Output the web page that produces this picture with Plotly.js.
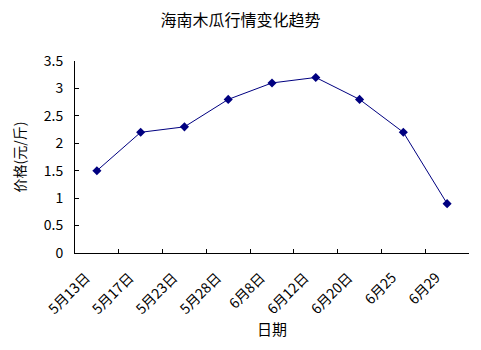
<!DOCTYPE html>
<html><head><meta charset="utf-8">
<script src="https://cdn.plot.ly/plotly-3.0.1.min.js"></script>
<style>body{margin:0;background:#fff}#c{width:481px;height:350px}</style>
</head><body><div id="c"></div>
<script>
const dates = ["5月13日","5月17日","5月23日","5月28日","6月8日","6月12日","6月20日","6月25","6月29"];
const prices = [1.5, 2.2, 2.3, 2.8, 3.1, 3.2, 2.8, 2.2, 0.9];
const yTicks = [0, 0.5, 1, 1.5, 2, 2.5, 3, 3.5];
const yTickText = ["0","0.5","1","1.5","2","2.5","3","3.5"];
const font = "'Noto Sans CJK SC', 'DejaVu Sans', sans-serif";
Plotly.newPlot('c', [{
  x: dates, y: prices, type: 'scatter', mode: 'lines+markers',
  line: {color: '#000080', width: 1},
  marker: {symbol: 'diamond', size: 7, color: '#000080'}
}], {
  width: 481, height: 350,
  margin: {l: 75, r: 12, t: 61, b: 97},
  paper_bgcolor: '#fff', plot_bgcolor: '#fff',
  showlegend: false,
  font: {family: font, color: '#000', size: 12},
  title: {text: '海南木瓜行情变化趋势', x: 0.5, xanchor: 'center', y: 0.943, yanchor: 'middle', font: {size: 16, family: font}},
  xaxis: {
    type: 'category', tickson: 'boundaries', ticks: 'inside', ticklen: 4, tickcolor: '#000',
    showline: true, linecolor: '#000', linewidth: 1, showgrid: false, zeroline: false,
    tickangle: -45, tickfont: {size: 14, family: font}, ticklabelstandoff: 10, ticklabelshift: -11,
    title: {text: '日期', font: {size: 15, family: font}, standoff: 6},
    range: [-0.5, 8.5]
  },
  yaxis: {
    range: [0, 3.5], tickvals: yTicks, ticktext: yTickText, ticks: 'inside', ticklen: 4, tickcolor: '#000',
    showline: true, linecolor: '#000', linewidth: 1, showgrid: false, zeroline: false,
    tickfont: {size: 14, family: font}, ticklabelstandoff: 8,
    title: {text: '价格(元/斤)', font: {size: 14, family: font}, standoff: 14}
  }
}, {staticPlot: true});
</script></body></html>
